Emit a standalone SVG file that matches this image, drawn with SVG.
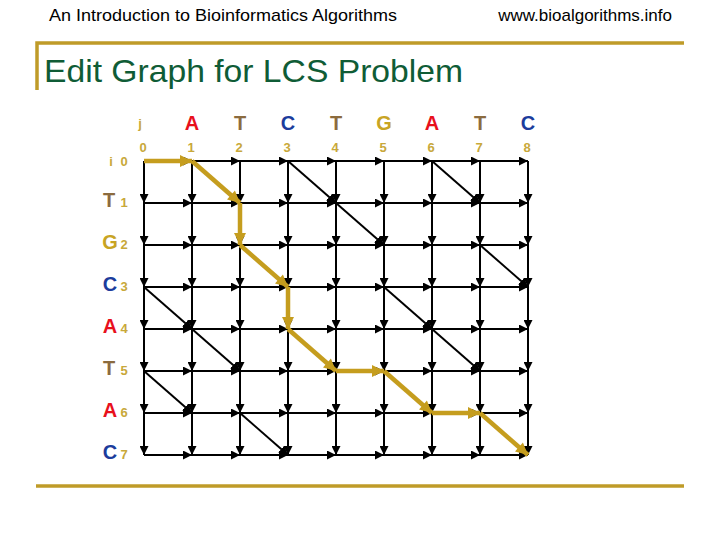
<svg xmlns="http://www.w3.org/2000/svg" width="720" height="540" viewBox="0 0 720 540">
<style>
.hdr{font-family:"Liberation Sans",Arial,sans-serif;font-size:17px;fill:#000}
.title{font-family:"Liberation Sans",Arial,sans-serif;font-size:32px;fill:#0f5c36}
.let{font-family:"Liberation Sans",Arial,sans-serif;font-size:20px;font-weight:bold;text-anchor:middle}
.num{font-family:"Liberation Sans",Arial,sans-serif;font-size:13px;font-weight:bold;fill:#c8a83a;text-anchor:middle}
.A{fill:#e8101c}.T{fill:#8b6b3e}.C{fill:#1c3c9c}.G{fill:#c8a424}
.rule{stroke:#bf9b28;stroke-width:3.5;fill:none}
.grid{stroke:#000;stroke-width:2;fill:none;marker-mid:url(#ah);marker-end:url(#ah)}
.diag{stroke:#000;stroke-width:2;fill:none;marker-end:url(#ah)}
.path{stroke:#c59d1e;stroke-width:4.5;fill:none;marker-end:url(#gh)}
</style>
<defs>
<marker id="ah" viewBox="0 0 10 10" refX="10" refY="5" markerWidth="9" markerHeight="9" markerUnits="userSpaceOnUse" orient="auto"><path d="M0,0 L10,5 L0,10 z" fill="#000"/></marker>
<marker id="gh" viewBox="0 0 10 10" refX="10" refY="5" markerWidth="14" markerHeight="12" markerUnits="userSpaceOnUse" orient="auto"><path d="M0,0 L10,5 L0,10 z" fill="#c59d1e"/></marker>
</defs>
<rect width="720" height="540" fill="#fff"/>
<g id="header">
<text class="hdr" x="49" y="21" textLength="348" lengthAdjust="spacingAndGlyphs">An Introduction to Bioinformatics Algorithms</text>
<text class="hdr" x="672" y="21" text-anchor="end">www.bioalgorithms.info</text>
<path class="rule" d="M37,90 V43 H684"/>
<text class="title" x="44" y="82" textLength="419" lengthAdjust="spacingAndGlyphs">Edit Graph for LCS Problem</text>
<path class="rule" d="M36,486 H684"/>
</g>
<g id="col-labels">
<text class="num" x="140" y="128">j</text>
<text class="let A" x="192" y="130">A</text>
<text class="let T" x="240" y="130">T</text>
<text class="let C" x="288" y="130">C</text>
<text class="let T" x="336" y="130">T</text>
<text class="let G" x="384" y="130">G</text>
<text class="let A" x="432" y="130">A</text>
<text class="let T" x="480" y="130">T</text>
<text class="let C" x="528" y="130">C</text>
<text class="num" x="143" y="152">0</text>
<text class="num" x="191" y="152">1</text>
<text class="num" x="239" y="152">2</text>
<text class="num" x="287" y="152">3</text>
<text class="num" x="335" y="152">4</text>
<text class="num" x="383" y="152">5</text>
<text class="num" x="431" y="152">6</text>
<text class="num" x="479" y="152">7</text>
<text class="num" x="527" y="152">8</text>
</g>
<g id="row-labels">
<text class="num" x="111" y="166">i</text>
<text class="num" x="124" y="166">0</text>
<text class="let T" x="109" y="207">T</text><text class="num" x="124" y="207">1</text>
<text class="let G" x="110" y="249">G</text><text class="num" x="124" y="249">2</text>
<text class="let C" x="110" y="291">C</text><text class="num" x="124" y="291">3</text>
<text class="let A" x="110" y="333">A</text><text class="num" x="124" y="333">4</text>
<text class="let T" x="109" y="375">T</text><text class="num" x="124" y="375">5</text>
<text class="let A" x="110" y="417">A</text><text class="num" x="124" y="417">6</text>
<text class="let C" x="110" y="459">C</text><text class="num" x="124" y="459">7</text>
</g>
<g id="connectors">
<g id="horizontal">
<polyline class="grid" points="144,161 192,161 240,161 288,161 336,161 384,161 432,161 480,161 528,161"/>
<polyline class="grid" points="144,203 192,203 240,203 288,203 336,203 384,203 432,203 480,203 528,203"/>
<polyline class="grid" points="144,245 192,245 240,245 288,245 336,245 384,245 432,245 480,245 528,245"/>
<polyline class="grid" points="144,287 192,287 240,287 288,287 336,287 384,287 432,287 480,287 528,287"/>
<polyline class="grid" points="144,329 192,329 240,329 288,329 336,329 384,329 432,329 480,329 528,329"/>
<polyline class="grid" points="144,371 192,371 240,371 288,371 336,371 384,371 432,371 480,371 528,371"/>
<polyline class="grid" points="144,413 192,413 240,413 288,413 336,413 384,413 432,413 480,413 528,413"/>
<polyline class="grid" points="144,455 192,455 240,455 288,455 336,455 384,455 432,455 480,455 528,455"/>
</g>
<g id="vertical">
<polyline class="grid" points="144,161 144,203 144,245 144,287 144,329 144,371 144,413 144,455"/>
<polyline class="grid" points="192,161 192,203 192,245 192,287 192,329 192,371 192,413 192,455"/>
<polyline class="grid" points="240,161 240,203 240,245 240,287 240,329 240,371 240,413 240,455"/>
<polyline class="grid" points="288,161 288,203 288,245 288,287 288,329 288,371 288,413 288,455"/>
<polyline class="grid" points="336,161 336,203 336,245 336,287 336,329 336,371 336,413 336,455"/>
<polyline class="grid" points="384,161 384,203 384,245 384,287 384,329 384,371 384,413 384,455"/>
<polyline class="grid" points="432,161 432,203 432,245 432,287 432,329 432,371 432,413 432,455"/>
<polyline class="grid" points="480,161 480,203 480,245 480,287 480,329 480,371 480,413 480,455"/>
<polyline class="grid" points="528,161 528,203 528,245 528,287 528,329 528,371 528,413 528,455"/>
</g>
<g id="diagonals">
<line class="diag" x1="288" y1="161" x2="336" y2="203"/>
<line class="diag" x1="432" y1="161" x2="480" y2="203"/>
<line class="diag" x1="336" y1="203" x2="384" y2="245"/>
<line class="diag" x1="480" y1="245" x2="528" y2="287"/>
<line class="diag" x1="144" y1="287" x2="192" y2="329"/>
<line class="diag" x1="384" y1="287" x2="432" y2="329"/>
<line class="diag" x1="192" y1="329" x2="240" y2="371"/>
<line class="diag" x1="432" y1="329" x2="480" y2="371"/>
<line class="diag" x1="144" y1="371" x2="192" y2="413"/>
<line class="diag" x1="240" y1="413" x2="288" y2="455"/>
</g>
<g id="lcs-path">
<line class="path" x1="144" y1="161" x2="192" y2="161"/>
<line class="path" x1="192" y1="161" x2="240" y2="203"/>
<line class="path" x1="240" y1="203" x2="240" y2="245"/>
<line class="path" x1="240" y1="245" x2="288" y2="287"/>
<line class="path" x1="288" y1="287" x2="288" y2="329"/>
<line class="path" x1="288" y1="329" x2="336" y2="371"/>
<line class="path" x1="336" y1="371" x2="384" y2="371"/>
<line class="path" x1="384" y1="371" x2="432" y2="413"/>
<line class="path" x1="432" y1="413" x2="480" y2="413"/>
<line class="path" x1="480" y1="413" x2="528" y2="455"/>
</g>
</g>
</svg>
